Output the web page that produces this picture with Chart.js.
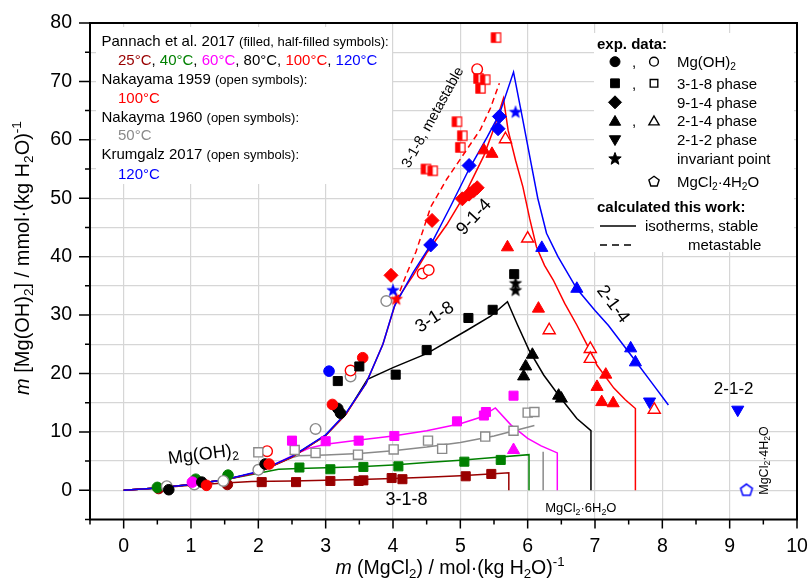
<!DOCTYPE html>
<html>
<head>
<meta charset="utf-8">
<script src="https://cdn.jsdelivr.net/npm/chart.js@4.4.0/dist/chart.umd.min.js"></script>
<style>
  html, body { margin: 0; padding: 0; background: #fff; }
  #wrap { width: 810px; height: 581px; }
</style>
</head>
<body>
<div id="wrap"><canvas id="chart" width="810" height="581"></canvas></div>
<script>
// ---- data ----
// axis ranges / tick labels
const xTicks = [0, 1, 2, 3, 4, 5, 6, 7, 8, 9, 10];
const yGrid = [-5, 0, 5, 10, 15, 20, 25, 30, 35, 40, 45, 50, 55, 60, 65, 70, 75, 80];

// calculated isotherms [m(MgCl2), m(Mg(OH)2)]
const line25 = [[0,0],[0.5,0.4],[1,0.85],[1.5,1.25],[1.9,1.5],[2.5,1.6],[3,1.7],[3.5,1.85],[4,2.0],[4.5,2.25],[5,2.5],[5.5,2.85],[5.72,3.0],[5.72,0]];
const line40 = [[0,0],[0.5,0.4],[1,1.0],[1.5,1.8],[2,2.9],[2.3,3.6],[2.6,3.75],[3,3.85],[3.5,4.05],[4,4.35],[4.5,4.75],[5,5.15],[5.5,5.6],[6.02,6.1],[6.02,0]];
const line50 = [[0,0],[0.5,0.4],[1,1.0],[1.5,1.8],[2,3.1],[2.5,5.6],[2.6,5.9],[3,6.05],[3.5,6.3],[4,6.75],[4.5,7.4],[5,8.2],[5.5,9.3],[6.1,11.1]];
const line50b = [[6.23,6.6],[6.23,0]];
const line60 = [[0,0],[0.5,0.4],[1,1.0],[1.5,1.8],[2,3.1],[2.5,5.9],[2.75,7.2],[3,7.9],[3.5,8.6],[4,9.3],[4.5,10.2],[5,11.4],[5.3,12.5],[5.52,14.1],[5.75,11.2],[6.0,8.9],[6.2,7.6],[6.44,6.4],[6.44,0]];
const line80 = [[0,0],[0.5,0.4],[1,1.0],[1.5,1.8],[2,3.1],[2.5,5.7],[3,9.4],[3.3,13.0],[3.62,19.0],[4,21.0],[4.5,23.4],[5.1,27.4],[5.45,29.8],[5.7,32.3],[5.85,28.3],[6.02,24.0],[6.24,19.7],[6.49,15.8],[6.73,12.3],[6.94,10.2],[6.94,0]];
const line100 = [[0,0],[0.5,0.4],[1,1.0],[1.5,1.8],[2,3.1],[2.5,5.7],[3,9.4],[3.3,13.0],[3.6,18.3],[3.85,25.0],[4.05,32.5],[4.3,36.8],[4.51,40.8],[4.8,45.5],[5.06,50.5],[5.35,57.3],[5.5,62.0],[5.64,67.1],[5.71,61.6],[5.82,56.5],[5.93,51.9],[6.03,46.5],[6.13,41.7],[6.25,38.5],[6.38,36.0],[6.55,32.0],[6.73,28.3],[6.9,24.5],[7.03,21.4],[7.28,17.5],[7.45,15.5],[7.6,14.0],[7.6,0]];
const dash100 = [[4.05,32.5],[4.2,37.0],[4.34,40.8],[4.56,48.5],[4.8,53.3],[5.0,56.7],[5.3,61.8],[5.45,65.5],[5.58,69.7]];
const line120 = [[0,0],[0.5,0.4],[1,1.0],[1.5,1.8],[2,3.2],[2.5,5.8],[3,9.5],[3.3,13.2],[3.6,18.3],[3.85,25.0],[4.02,31.5],[4.3,37.3],[4.56,42.0],[4.85,48.5],[5.13,55.0],[5.4,60.5],[5.58,64.4],[5.79,71.6],[5.93,63.3],[6.05,56.0],[6.15,50.0],[6.28,44.0],[6.45,40.0],[6.73,34.5],[7.0,30.8],[7.2,28.2],[7.57,22.6],[7.85,18.3],[8.09,14.6]];

// Pannach et al. 2017
const p25Circ = [[0.52,0.3],[1.03,1.2],[1.54,1.0]];
const p25Sq = [[2.05,1.4],[2.56,1.4],[3.07,1.6],[3.49,1.6],[3.56,1.7],[3.98,2.1],[4.14,1.9],[5.08,2.4],[5.46,2.8]];
const p40Circ = [[0.5,0.5],[1.07,1.9],[1.55,2.6]];
const p40Sq = [[2.61,3.9],[3.07,3.6],[3.56,4.0],[4.08,4.1],[5.06,4.9],[5.6,5.2]];
const p60Circ = [[1.02,1.4]];
const p60Sq = [[2.5,8.5],[3.0,8.4],[3.49,8.5],[4.02,9.3],[4.95,11.8],[5.35,12.8],[5.38,13.4],[5.79,16.2]];
const p60Tri = [[5.79,6.9]];
const p80Circ = [[0.67,0.1],[1.16,1.4],[2.1,4.5],[3.18,14.0],[3.22,13.2]];
const p80Sq = [[3.18,18.7],[3.5,21.2],[4.04,19.8],[4.5,24.0],[5.12,29.5],[5.48,30.9],[5.8,37.0]];
const p80Star = [[5.82,35.4],[5.82,34.2]];
const p80Tri = [[5.94,19.5],[5.97,21.2],[6.07,23.2],[6.46,16.2],[6.5,15.7]];
const p100Circ = [[1.23,0.85],[2.16,4.5],[3.1,14.7],[3.55,22.7]];
const p100HalfSq = [[4.49,55.0],[4.59,54.7],[4.95,63.1],[5.0,58.7],[5.03,60.7],[5.27,70.5],[5.3,68.8],[5.37,70.3],[5.53,77.5]];
const p100Dia = [[3.97,36.8],[4.58,46.2],[5.03,49.9],[5.13,50.7],[5.2,51.3],[5.25,51.8]];
const p100Tri = [[5.35,58.2],[5.47,57.6],[5.7,41.6],[6.16,31.1],[7.03,17.7],[7.16,19.8],[7.1,15.1],[7.27,14.9]];
const p100Star = [[4.05,32.7]];
const p120Circ = [[3.05,20.4]];
const p120Dia = [[4.56,42.0],[5.13,55.6],[5.56,61.9],[5.58,64.0]];
const p120Tri = [[6.21,41.5],[6.73,34.5],[7.53,24.3],[7.6,21.9]];
const p120Down = [[7.81,15.2],[9.12,13.8]];
const p120Star = [[4.0,34.2],[5.82,64.7]];

// Nakayama 1959 (100 °C), Nakayama 1960 (50 °C), Krumgalz 2017 (120 °C)
const n59Circ = [[2.13,6.7],[3.37,20.5],[4.44,37.1],[4.53,37.7],[5.25,72.1]];
const n59Tri = [[5.67,60.1],[6.0,43.1],[6.32,27.4],[6.93,24.2],[6.93,22.5],[7.88,13.8]];
const n60Circ = [[0.64,0.7],[1.05,1.0],[1.48,1.6],[2.0,3.5],[2.85,10.5],[3.37,19.5],[3.9,32.4]];
const n60Sq = [[2.0,6.5],[2.54,6.9],[2.85,6.4],[3.48,6.1],[4.01,7.0],[4.52,8.5],[4.73,7.1],[5.37,9.2],[5.79,10.2],[6.0,13.3],[6.1,13.4]];
const k17Pent = [[9.25,0.0]];

// ---- styling ----
const C25 = "#990000", C40 = "#008000", C50 = "#8a8a8a", C60 = "#ff00ff",
      C80 = "#000000", C100 = "#ff0000", C120 = "#0000ff";
const GRID = "#d6d6d6";
const FONT = '"Liberation Sans", Arial, Helvetica, sans-serif';

function font(size, italic, bold) {
  return (italic ? "italic " : "") + (bold ? "bold " : "") + size + "px " + FONT;
}

function polygon(g, x, y, r, n, startDeg) {
  for (let i = 0; i < n; i++) {
    const a = (startDeg + i * 360 / n) * Math.PI / 180;
    const px = x + r * Math.cos(a), py = y + r * Math.sin(a);
    if (i === 0) g.moveTo(px, py); else g.lineTo(px, py);
  }
  g.closePath();
}

function drawSym(g, shape, x, y, r, fill, stroke, lw) {
  g.save();
  g.lineWidth = lw;
  g.strokeStyle = stroke;
  g.fillStyle = fill;
  g.beginPath();
  if (shape === "circle") g.arc(x, y, r, 0, Math.PI * 2);
  else if (shape === "square" || shape === "half") g.rect(x - r, y - r, 2 * r, 2 * r);
  else if (shape === "diamond") { g.moveTo(x, y - r); g.lineTo(x + r, y); g.lineTo(x, y + r); g.lineTo(x - r, y); g.closePath(); }
  else if (shape === "triangle") polygon(g, x, y + r * 0.15, r, 3, -90);
  else if (shape === "down") polygon(g, x, y - r * 0.15, r, 3, 90);
  else if (shape === "pentagon") polygon(g, x, y, r, 5, -90);
  else if (shape === "star") {
    for (let i = 0; i < 10; i++) {
      const rr = i % 2 === 0 ? r : r * 0.42;
      const a = (-90 + i * 36) * Math.PI / 180;
      const px = x + rr * Math.cos(a), py = y + rr * Math.sin(a);
      if (i === 0) g.moveTo(px, py); else g.lineTo(px, py);
    }
    g.closePath();
  }
  g.fill();
  if (shape === "half") { g.fillStyle = stroke; g.fillRect(x - r, y - r, r, 2 * r); }
  if (lw > 0) g.stroke();
  g.restore();
}

function symCanvas(shape, fill, stroke, r, lw) {
  const size = Math.ceil(r * 2 + lw + 2);
  const c = document.createElement("canvas");
  c.width = size; c.height = size;
  drawSym(c.getContext("2d"), shape, size / 2, size / 2, r, fill, stroke, lw);
  return c;
}

const starBlack = symCanvas("star", C80, C80, 6.5, 0.5);
const starRed = symCanvas("star", C100, C100, 6.5, 0.5);
const starBlue = symCanvas("star", C120, C120, 6.5, 0.5);
const halfRed = symCanvas("half", "#fff", C100, 4.6, 1.2);
const pentBlue = symCanvas("pentagon", "#fff", C120, 6.2, 1.5);

function pts(arr) { return arr.map(p => ({ x: p[0], y: p[1] })); }

function marks(arr, style, color, open, extra) {
  return Object.assign({
    data: pts(arr),
    pointStyle: style,
    pointRadius: 5.3,
    pointBackgroundColor: open ? "#fff" : color,
    pointBorderColor: color,
    pointBorderWidth: open ? 1.4 : 1,
    showLine: false,
    order: 0
  }, extra || {});
}

function curve(arr, color, dashed) {
  return {
    data: pts(arr),
    showLine: true,
    borderColor: color,
    borderWidth: 1.5,
    borderDash: dashed ? [6, 4] : [],
    pointRadius: 0,
    tension: 0,
    fill: false,
    order: 1
  };
}

const SQ = { pointRadius: 6.4 };
const DIA = { pointRadius: 7 };
const TRI = { pointRadius: 7 };
const DOWN = { pointRadius: 7, pointRotation: 180 };
const IMG = { pointRadius: 6 };

const datasets = [
  // markers (order 0 -> drawn above the lines)
  marks(p120Star, starBlue, C120, false, IMG),
  marks(p100Star, starRed, C100, false, IMG),
  marks(p80Star, starBlack, C80, false, IMG),
  marks(p120Dia, "rectRot", C120, false, DIA),
  marks(p100Dia, "rectRot", C100, false, DIA),
  marks(p120Tri, "triangle", C120, false, TRI),
  marks(p120Down, "triangle", C120, false, DOWN),
  marks(p100Tri, "triangle", C100, false, TRI),
  marks(n59Tri, "triangle", C100, true, TRI),
  marks(p80Tri, "triangle", C80, false, TRI),
  marks(p60Tri, "triangle", C60, false, TRI),
  marks(p100HalfSq, halfRed, C100, false, IMG),
  marks(p80Sq, "rect", C80, false, SQ),
  marks(p60Sq, "rect", C60, false, SQ),
  marks(n60Sq, "rect", C50, true, SQ),
  marks(p40Sq, "rect", C40, false, SQ),
  marks(p25Sq, "rect", C25, false, SQ),
  marks(p120Circ, "circle", C120, false),
  marks(p100Circ, "circle", C100, false),
  marks(n59Circ, "circle", C100, true),
  marks(p80Circ, "circle", C80, false),
  marks(p60Circ, "circle", C60, false),
  marks(n60Circ, "circle", C50, true),
  marks(p40Circ, "circle", C40, false),
  marks(p25Circ, "circle", C25, false),
  marks(k17Pent, pentBlue, C120, false, IMG),
  // calculated lines (blue on top of the shared Mg(OH)2 branch)
  curve(line120, C120),
  curve(line100, C100),
  curve(dash100, C100, true),
  curve(line80, C80),
  curve(line60, C60),
  curve(line50, C50),
  curve(line50b, C50),
  curve(line40, C40),
  curve(line25, C25)
];

// ---- text helpers ----
function richWidth(g, runs, size) {
  let w = 0;
  runs.forEach(r => {
    const s = r.sub || r.sup ? size * 0.68 : (r.s || size);
    g.font = font(s, r.i, r.b);
    w += g.measureText(r.t).width;
  });
  return w;
}

function drawRich(g, runs, x, y, size, align) {
  g.save();
  g.textBaseline = "alphabetic";
  g.textAlign = "left";
  const w = richWidth(g, runs, size);
  let cx = align === "center" ? x - w / 2 : align === "right" ? x - w : x;
  runs.forEach(r => {
    const s = r.sub || r.sup ? size * 0.68 : (r.s || size);
    g.font = font(s, r.i, r.b);
    g.fillStyle = r.c || "#000";
    const dy = r.sub ? size * 0.22 : r.sup ? -size * 0.42 : 0;
    g.fillText(r.t, cx, y + dy);
    cx += g.measureText(r.t).width;
  });
  g.restore();
}

const mgcl4 = [{ t: "MgCl" }, { t: "2", sub: true }, { t: "·4H" }, { t: "2", sub: true }, { t: "O" }];
const mgcl6 = [{ t: "MgCl" }, { t: "2", sub: true }, { t: "·6H" }, { t: "2", sub: true }, { t: "O" }];

// labels inside the plot (anchored in data units)
const notes = [
  { runs: [{ t: "Mg(OH)" }, { t: "2", sub: true }], x: 1.18, y: 6.3, rot: -7, size: 18 },
  { runs: [{ t: "3-1-8" }], x: 4.61, y: 29.8, rot: -33, size: 18 },
  { runs: [{ t: "9-1-4" }], x: 5.19, y: 46.9, rot: -47, size: 18 },
  { runs: [{ t: "3-1-8, metastable" }], x: 4.58, y: 63.9, rot: -61, size: 14.5 },
  { runs: [{ t: "2-1-4" }], x: 7.28, y: 32.0, rot: 53, size: 18 },
  { runs: [{ t: "2-1-2" }], x: 9.06, y: 17.5, rot: 0, size: 17 },
  { runs: mgcl4, x: 9.5, y: 5.1, rot: -90, size: 12.5 },
  { runs: mgcl6, x: 6.79, y: -2.9, rot: 0, size: 13 },
  { runs: [{ t: "3-1-8" }], x: 4.2, y: -1.4, rot: 0, size: 18 }
];

const leftRows = [
  { x: 101.5, y: 40.7, runs: [{ t: "Pannach et al. 2017 " }, { t: "(filled, half-filled symbols):", s: 13 }] },
  { x: 118, y: 59.3, runs: [{ t: "25°C", c: C25 }, { t: ", " }, { t: "40°C", c: C40 }, { t: ", " }, { t: "60°C", c: C60 }, { t: ", " }, { t: "80°C" }, { t: ", " }, { t: "100°C", c: C100 }, { t: ", " }, { t: "120°C", c: C120 }] },
  { x: 101.5, y: 78.3, runs: [{ t: "Nakayama 1959 " }, { t: "(open symbols):", s: 13 }] },
  { x: 118, y: 97.3, runs: [{ t: "100°C", c: C100 }] },
  { x: 101.5, y: 116.7, runs: [{ t: "Nakayma 1960 " }, { t: "(open symbols):", s: 13 }] },
  { x: 118, y: 135, runs: [{ t: "50°C", c: C50 }] },
  { x: 101.5, y: 154, runs: [{ t: "Krumgalz 2017 " }, { t: "(open symbols):", s: 13 }] },
  { x: 118, y: 173.3, runs: [{ t: "120°C", c: C120 }] }
];

const rightRows = [
  { y: 61.7, filled: "circle", open: "circle", r: 5, runs: [{ t: "Mg(OH)" }, { t: "2", sub: true }] },
  { y: 83.3, filled: "square", open: "square", r: 4.4, runs: [{ t: "3-1-8 phase" }] },
  { y: 102.3, filled: "diamond", r: 6.5, runs: [{ t: "9-1-4 phase" }] },
  { y: 121, filled: "triangle", open: "triangle", r: 6.5, runs: [{ t: "2-1-4 phase" }] },
  { y: 140, filled: "down", r: 6.5, runs: [{ t: "2-1-2 phase" }] },
  { y: 159, filled: "star", r: 6.5, runs: [{ t: "invariant point" }] },
  { y: 181.7, open: "pentagon", r: 6, runs: mgcl4 }
];

const decorPlugin = {
  id: "decor",
  beforeDatasetsDraw(chart) {
    const g = chart.ctx;
    g.save();
    g.fillStyle = "#fff";
    g.fillRect(96, 27, 296, 157);
    g.fillRect(594, 33, 200, 219);
    g.restore();
  },
  afterDraw(chart) {
    const g = chart.ctx;
    const a = chart.chartArea;
    const xs = chart.scales.x, ys = chart.scales.y;
    g.save();

    // frame and tick marks
    g.strokeStyle = "#000";
    g.lineWidth = 2;
    g.strokeRect(a.left, a.top, a.right - a.left, a.bottom - a.top);
    g.lineWidth = 1.5;
    g.beginPath();
    yGrid.forEach(v => {
      const py = ys.getPixelForValue(v);
      const len = v % 10 === 0 ? 11 : 5;
      g.moveTo(a.left - len, py); g.lineTo(a.left, py);
    });
    for (let v = -0.5; v <= 10; v += 0.5) {
      const px = xs.getPixelForValue(v);
      const len = Number.isInteger(v) ? 9 : 5;
      g.moveTo(px, a.bottom); g.lineTo(px, a.bottom + len);
    }
    g.stroke();

    // in-plot labels
    notes.forEach(n => {
      g.save();
      g.translate(xs.getPixelForValue(n.x), ys.getPixelForValue(n.y));
      g.rotate(n.rot * Math.PI / 180);
      drawRich(g, n.runs, 0, n.size * 0.35, n.size, "center");
      g.restore();
    });

    // left legend (sources)
    leftRows.forEach(r => drawRich(g, r.runs, r.x, r.y + 5.3, 15, "left"));

    // right legend (symbols)
    drawRich(g, [{ t: "exp. data:", b: true }], 597, 44 + 5.3, 15, "left");
    rightRows.forEach(r => {
      if (r.filled) drawSym(g, r.filled, 615, r.y, r.r, "#000", "#000", 1);
      if (r.filled && r.open) drawRich(g, [{ t: "," }], 634, r.y + 5.3, 15, "center");
      if (r.open) drawSym(g, r.open, 654, r.y, r.r - 0.6, "#fff", "#000", 1.4);
      drawRich(g, r.runs, 677, r.y + 5.3, 15, "left");
    });
    drawRich(g, [{ t: "calculated this work:", b: true }], 597, 207 + 5.3, 15, "left");
    g.strokeStyle = "#000";
    g.lineWidth = 1.6;
    g.beginPath(); g.moveTo(600, 226); g.lineTo(636, 226); g.stroke();
    g.setLineDash([7, 5]);
    g.beginPath(); g.moveTo(600, 245); g.lineTo(636, 245); g.stroke();
    g.setLineDash([]);
    drawRich(g, [{ t: "isotherms, stable" }], 645, 226 + 5.3, 15, "left");
    drawRich(g, [{ t: "metastable" }], 688, 245 + 5.3, 15, "left");

    // axis titles
    drawRich(g, [{ t: "m", i: true }, { t: " (MgCl" }, { t: "2", sub: true }, { t: ") / mol·(kg H" }, { t: "2", sub: true }, { t: "O)" }, { t: "-1", sup: true }],
      450, 574, 19.5, "center");
    g.save();
    g.translate(22, 258);
    g.rotate(-Math.PI / 2);
    drawRich(g, [{ t: "m", i: true }, { t: " [Mg(OH)" }, { t: "2", sub: true }, { t: "] / mmol·(kg H" }, { t: "2", sub: true }, { t: "O)" }, { t: "-1", sup: true }],
      0, 7, 20, "center");
    g.restore();

    g.restore();
  }
};

Chart.defaults.font.family = FONT;
Chart.defaults.color = "#000";

const ctx = document.getElementById("chart").getContext("2d");
const chart = new Chart(ctx, {
  type: "scatter",
  data: { datasets: datasets },
  options: {
    responsive: false,
    animation: false,
    devicePixelRatio: 1,
    layout: { padding: { top: 23, right: 13, left: 0, bottom: 0 } },
    plugins: { legend: { display: false }, tooltip: { enabled: false } },
    events: [],
    scales: {
      x: {
        type: "linear",
        min: -0.5,
        max: 10,
        afterBuildTicks: s => { s.ticks = xTicks.map(v => ({ value: v })); },
        afterFit: s => { s.height = 61.5; s.paddingLeft = 0; s.paddingRight = 0; },
        grid: { color: GRID, lineWidth: 1.2, drawTicks: false },
        border: { display: false },
        ticks: { padding: 15, color: "#000", font: { size: 19.5 }, maxRotation: 0, autoSkip: false }
      },
      y: {
        type: "linear",
        min: -5,
        max: 80,
        afterBuildTicks: s => { s.ticks = yGrid.map(v => ({ value: v })); },
        afterFit: s => { s.width = 90; s.paddingTop = 0; s.paddingBottom = 0; },
        grid: { color: GRID, lineWidth: 1.2, drawTicks: false },
        border: { display: false },
        ticks: {
          padding: 18,
          color: "#000",
          font: { size: 19.5 },
          autoSkip: false,
          callback: v => (v % 10 === 0 ? String(v) : "")
        }
      }
    }
  },
  plugins: [decorPlugin]
});
</script>
</body>
</html>
